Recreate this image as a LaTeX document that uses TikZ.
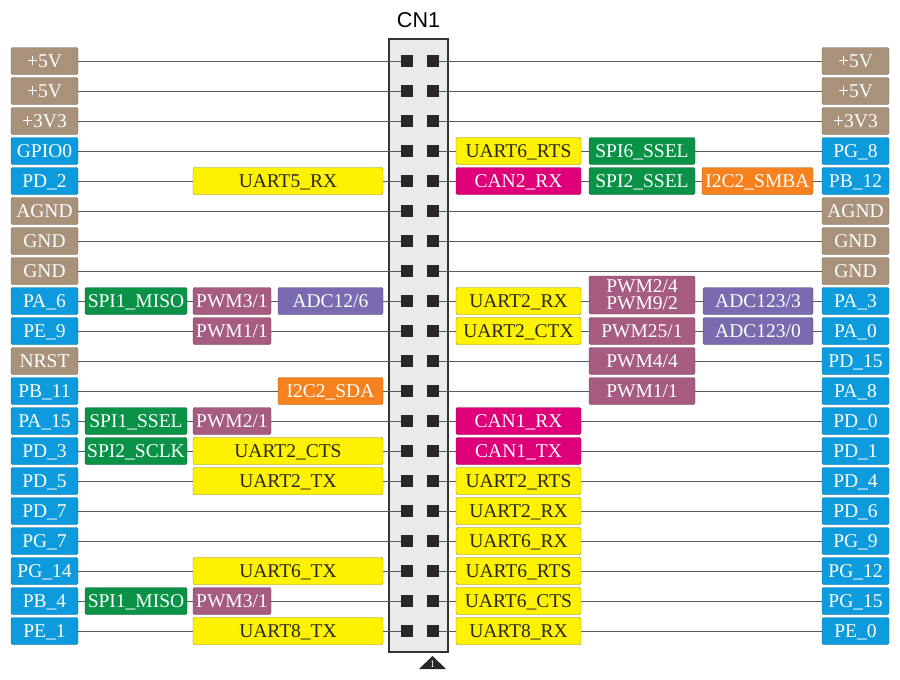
\documentclass[tikz,border=0pt]{standalone}
\usepackage{fontspec}
\setmainfont{Liberation Serif}
\newfontfamily\hdrfont{Liberation Sans}
\usetikzlibrary{positioning}
\definecolor{pwrtan}{HTML}{A8927A}
\definecolor{ioblue}{HTML}{0E9BDD}
\definecolor{uartyellow}{HTML}{FFF200}
\definecolor{canmag}{HTML}{DF0079}
\definecolor{spigreen}{HTML}{0A9347}
\definecolor{i2corange}{HTML}{F5821F}
\definecolor{pwmmauve}{HTML}{A65B81}
\definecolor{adcpurple}{HTML}{7A6BB0}
\definecolor{pinblack}{HTML}{2A2626}
\definecolor{wiregray}{HTML}{5A5A5A}
\definecolor{hdrfill}{HTML}{EBEBEB}
\pgfdeclarelayer{bg}
\pgfdeclarelayer{wires}
\pgfsetlayers{bg,wires,main}

% signal box spanning x1..x2 on a given row
\newcommand{\sig}[6]{\node[#1, minimum width={#4-#3}] (#2) at ({(#3+#4)/2},#5) {#6};}

\begin{document}
\begin{tikzpicture}[x=1pt, y=-30pt,
    tagbox/.style={draw, rounded corners=2pt, minimum height=27pt, inner sep=0pt,
      text height=12.9pt, text depth=0pt, text=white,
      font=\fontsize{19.5}{20}\selectfont},
    pwr/.style={tagbox, fill=pwrtan, draw=pwrtan!70!black},
    io/.style={tagbox, fill=ioblue, draw=ioblue!70!black},
    uart/.style={tagbox, fill=uartyellow, draw=uartyellow!55!black, text=black!85},
    can/.style={tagbox, fill=canmag, draw=canmag!70!black},
    spi/.style={tagbox, fill=spigreen, draw=spigreen!70!black},
    i2c/.style={tagbox, fill=i2corange, draw=i2corange!70!black},
    pwm/.style={tagbox, fill=pwmmauve, draw=pwmmauve!70!black},
    adc/.style={tagbox, fill=adcpurple, draw=adcpurple!70!black},
    pin/.style={fill=pinblack, minimum size=12pt, inner sep=0pt},
    wire/.style={draw=wiregray, line width=0.9pt},
    header/.style={draw=black!80, fill=hdrfill, line width=1.4pt,
      minimum width=59pt, minimum height=613pt, inner sep=0pt}]
  \useasboundingbox (0,-1.0333) rectangle (900,21.6333);

  % header body and pins
  \begin{pgfonlayer}{bg}
    \node[header] (cn) at (418.5,10.4833) {};
  \end{pgfonlayer}
  \node[font=\hdrfont\fontsize{21.5}{22}\selectfont, inner sep=0pt, text depth=0pt,
    above=10.5pt of cn] (cnlabel) {CN1};
  \foreach \r in {1,...,20} {
    \node[pin] (l\r) at (407,\r) {};
    \node[pin] (r\r) at (432.5,\r) {};
  }
  \fill[pinblack] (432.5,20.8333) -- (446,21.2667) -- (419,21.2667) -- cycle;
  \node[text=white, font=\fontsize{10}{10}\selectfont, inner sep=0pt] (pinone) at (432.5,21.12) {1};

  % pin names
  \foreach \s/\t [count=\r] in {pwr/+5V, pwr/+5V, pwr/+3V3, io/GPIO0, io/PD\_2,
      pwr/AGND, pwr/GND, pwr/GND, io/PA\_6, io/PE\_9, pwr/NRST, io/PB\_11,
      io/PA\_15, io/PD\_3, io/PD\_5, io/PD\_7, io/PG\_7, io/PG\_14, io/PB\_4, io/PE\_1}
    \node[\s, minimum width=67pt] (lp\r) at (44.5,\r) {\t};
  \foreach \s/\t [count=\r] in {pwr/+5V, pwr/+5V, pwr/+3V3, io/PG\_8, io/PB\_12,
      pwr/AGND, pwr/GND, pwr/GND, io/PA\_3, io/PA\_0, io/PD\_15, io/PA\_8,
      io/PD\_0, io/PD\_1, io/PD\_4, io/PD\_6, io/PG\_9, io/PG\_12, io/PG\_15, io/PE\_0}
    \node[\s, minimum width=67pt] (rp\r) at (855.5,\r) {\t};

  % left side functions
  \sig{uart}{uart5rx}{193}{383}{5}{UART5\_RX}
  \sig{spi}{spi1miso}{85}{187}{9}{SPI1\_MISO}
  \sig{pwm}{pwm31}{193}{271}{9}{PWM3/1}
  \sig{adc}{adc126}{278}{383}{9}{ADC12/6}
  \sig{pwm}{pwm11}{193}{271}{10}{PWM1/1}
  \sig{i2c}{i2csda}{278}{383}{12}{I2C2\_SDA}
  \sig{spi}{spi1ssel}{85}{187}{13}{SPI1\_SSEL}
  \sig{pwm}{pwm21}{193}{271}{13}{PWM2/1}
  \sig{spi}{spi2sclk}{85}{187}{14}{SPI2\_SCLK}
  \sig{uart}{uart2cts}{193}{383}{14}{UART2\_CTS}
  \sig{uart}{uart2tx}{193}{383}{15}{UART2\_TX}
  \sig{uart}{uart6tx}{193}{383}{18}{UART6\_TX}
  \sig{spi}{spi1misob}{85}{187}{19}{SPI1\_MISO}
  \sig{pwm}{pwm31b}{193}{271}{19}{PWM3/1}
  \sig{uart}{uart8tx}{193}{383}{20}{UART8\_TX}

  % right side functions
  \sig{uart}{uart6rts}{456}{581}{4}{UART6\_RTS}
  \sig{spi}{spi6ssel}{589}{695}{4}{SPI6\_SSEL}
  \sig{can}{can2rx}{456}{581}{5}{CAN2\_RX}
  \sig{spi}{spi2ssel}{589}{695}{5}{SPI2\_SSEL}
  \sig{i2c}{i2csmba}{702}{813}{5}{I2C2\_SMBA}
  \sig{uart}{uart2rx}{456}{581}{9}{UART2\_RX}
  \node[pwm, minimum width=106pt, minimum height=38pt, text height=29.9pt, text depth=0pt,
    align=center, font=\fontsize{19.5}{17}\selectfont] (pwm24) at (642,8.8) {PWM2/4\\PWM9/2};
  \sig{adc}{adc1233}{703}{813}{9}{ADC123/3}
  \sig{uart}{uart2ctx}{456}{581}{10}{UART2\_CTX}
  \sig{pwm}{pwm251}{589}{695}{10}{PWM25/1}
  \sig{adc}{adc1230}{703}{813}{10}{ADC123/0}
  \sig{pwm}{pwm44}{589}{695}{11}{PWM4/4}
  \sig{pwm}{pwm11b}{589}{695}{12}{PWM1/1}
  \sig{can}{can1rx}{456}{581}{13}{CAN1\_RX}
  \sig{can}{can1tx}{456}{581}{14}{CAN1\_TX}
  \sig{uart}{uart2rts}{456}{581}{15}{UART2\_RTS}
  \sig{uart}{uart2rxb}{456}{581}{16}{UART2\_RX}
  \sig{uart}{uart6rx}{456}{581}{17}{UART6\_RX}
  \sig{uart}{uart6rtsb}{456}{581}{18}{UART6\_RTS}
  \sig{uart}{uart6cts}{456}{581}{19}{UART6\_CTS}
  \sig{uart}{uart8rx}{456}{581}{20}{UART8\_RX}

  % wires run behind the boxes
  \begin{pgfonlayer}{wires}
    \foreach \r in {1,...,20} {
      \draw[wire] (lp\r) -- (l\r);
      \draw[wire] (r\r) -- (rp\r);
    }
  \end{pgfonlayer}
\end{tikzpicture}
\end{document}
